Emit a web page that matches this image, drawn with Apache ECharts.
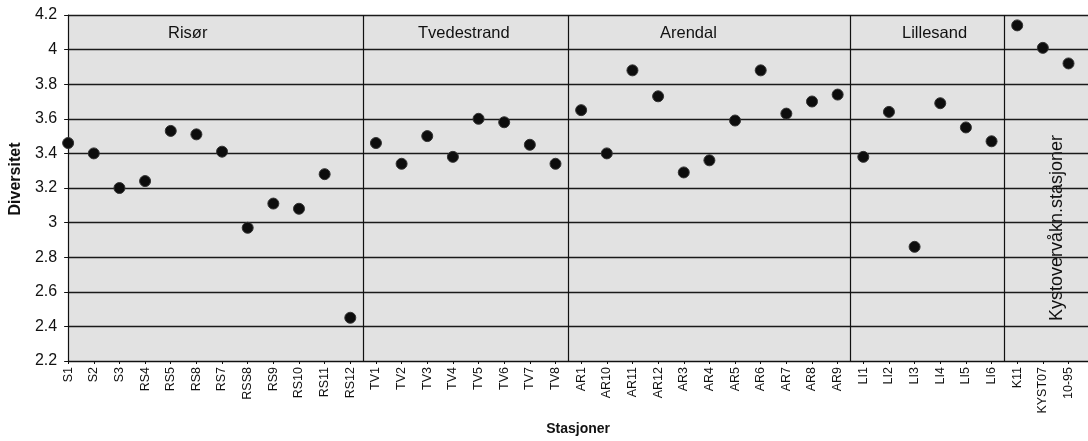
<!DOCTYPE html>
<html>
<head>
<meta charset="utf-8">
<script src="https://cdn.jsdelivr.net/npm/echarts@6/dist/echarts.min.js"></script>
<style>html,body{margin:0;padding:0;background:#fff}#c{width:1088px;height:441px}</style>
</head>
<body>
<div id="c"></div>
<script>
const stations = ['S1','S2','S3','RS4','RS5','RS8','RS7','RSS8','RS9','RS10','RS11','RS12',
  'TV1','TV2','TV3','TV4','TV5','TV6','TV7','TV8',
  'AR1','AR10','AR11','AR12','AR3','AR4','AR5','AR6','AR7','AR8','AR9',
  'LI1','LI2','LI3','LI4','LI5','LI6',
  'K11','KYST07','10-95'];
const diversity = [3.46,3.40,3.20,3.24,3.53,3.51,3.41,2.97,3.11,3.08,3.28,2.45,
  3.46,3.34,3.50,3.38,3.60,3.58,3.45,3.34,
  3.65,3.40,3.88,3.73,3.29,3.36,3.59,3.88,3.63,3.70,3.74,
  3.38,3.64,2.86,3.69,3.55,3.47,
  4.14,4.01,3.92];
const groupBreaks = [11.5, 19.5, 30.5, 36.5];
const groupNames = ['Risør','Tvedestrand','Arendal','Lillesand','Kystovervåkn.stasjoner'];
const yTicks = {min: 2.2, max: 4.2, interval: 0.2};

const chart = echarts.init(document.getElementById('c'));
const font = 'Liberation Sans, Arial, sans-serif';
chart.setOption({
  animation: false,
  grid: {left: 63, top: 15, right: 0, bottom: 78, show: true, backgroundColor: '#e2e2e2', borderWidth: 0},
  xAxis: {
    type: 'value', min: 0, max: 39.76, interval: 1,
    name: 'Stasjoner', nameLocation: 'middle', nameGap: 61,
    nameTextStyle: {fontFamily: font, fontWeight: 'bold', fontSize: 14, color: '#111'},
    axisLine: {show: true, lineStyle: {color: '#111', width: 1}},
    axisTick: {show: true, length: 3, lineStyle: {color: '#111'}},
    splitLine: {show: false},
    axisLabel: {
      rotate: 90, fontFamily: font, fontSize: 12.5, color: '#111', margin: 6,
      showMaxLabel: false,
      formatter: v => (Number.isInteger(v) && stations[v] !== undefined) ? stations[v] : ''
    }
  },
  yAxis: {
    type: 'value', min: yTicks.min, max: yTicks.max, interval: yTicks.interval,
    name: 'Diversitet', nameLocation: 'middle', nameGap: 42,
    nameTextStyle: {fontFamily: font, fontWeight: 'bold', fontSize: 16, color: '#111', padding: [0, 0, 0, 18]},
    axisLine: {show: true, lineStyle: {color: '#111', width: 1.2}},
    axisTick: {show: true, length: 4, lineStyle: {color: '#111'}},
    splitLine: {show: true, lineStyle: {color: '#1a1a1a', width: 1.3}},
    axisLabel: {fontFamily: font, fontSize: 16, color: '#111', margin: 11,
      formatter: v => String(Math.round(v * 10) / 10)}
  },
  series: [{
    type: 'scatter',
    data: diversity.map((v, i) => [i, v]),
    symbolSize: 11,
    itemStyle: {color: '#0d0d0d', borderColor: '#333', borderWidth: 1, opacity: 1},
    markLine: {
      silent: true, symbol: 'none', label: {show: false},
      lineStyle: {color: '#111', width: 1.2, type: 'solid'},
      data: groupBreaks.map(b => ({xAxis: b}))
    },
    z: 5
  }],
  graphic: [
    {type: 'text', left: 168, top: 25, style: {text: groupNames[0], font: '16.5px ' + font, fill: '#111'}},
    {type: 'text', left: 418, top: 25, style: {text: groupNames[1], font: '16.5px ' + font, fill: '#111'}},
    {type: 'text', left: 660, top: 25, style: {text: groupNames[2], font: '16.5px ' + font, fill: '#111'}},
    {type: 'text', left: 902, top: 25, style: {text: groupNames[3], font: '16.5px ' + font, fill: '#111'}},
    {type: 'text', x: 1057, y: 228, rotation: Math.PI / 2,
      style: {text: groupNames[4], font: '18px ' + font, fill: '#111', textAlign: 'center', textVerticalAlign: 'middle'}}
  ]
});
</script>
</body>
</html>
